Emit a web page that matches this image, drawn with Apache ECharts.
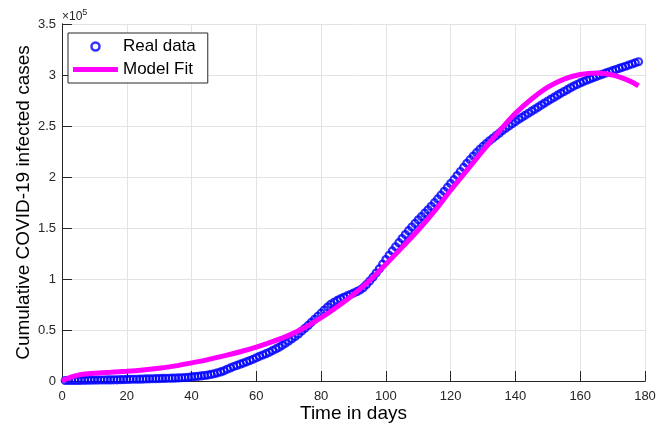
<!DOCTYPE html>
<html><head><meta charset="utf-8">
<script src="https://cdn.jsdelivr.net/npm/echarts@6/dist/echarts.min.js"></script>
<style>html,body{margin:0;padding:0;background:#fff}#c{width:670px;height:431px}</style>
</head><body><div id="c"></div>
<script>
// Real data: cumulative cases (x10^5) for days 1..178
const realFirstDay = 1;
const realCases = [
 0.005,0.005,0.005,0.006,0.006,0.007,0.007,0.008,0.008,0.009,
 0.009,0.010,0.010,0.011,0.011,0.012,0.012,0.013,0.014,0.015,
 0.016,0.017,0.017,0.018,0.019,0.020,0.021,0.022,0.023,0.024,
 0.025,0.026,0.027,0.028,0.029,0.030,0.032,0.034,0.036,0.040,
 0.043,0.046,0.050,0.054,0.058,0.064,0.071,0.080,0.089,0.100,
 0.115,0.128,0.142,0.153,0.165,0.176,0.188,0.200,0.213,0.228,
 0.242,0.255,0.268,0.282,0.298,0.314,0.330,0.350,0.370,0.392,
 0.414,0.437,0.462,0.490,0.517,0.545,0.575,0.605,0.635,0.665,
 0.695,0.725,0.752,0.772,0.790,0.806,0.820,0.834,0.848,0.862,
 0.876,0.892,0.915,0.945,0.980,1.018,1.058,1.100,1.145,1.190,
 1.232,1.275,1.316,1.356,1.396,1.436,1.474,1.510,1.545,1.580,
 1.612,1.645,1.678,1.712,1.748,1.785,1.822,1.860,1.898,1.936,
 1.974,2.014,2.054,2.094,2.134,2.170,2.205,2.238,2.270,2.300,
 2.328,2.355,2.380,2.405,2.430,2.455,2.478,2.500,2.522,2.543,
 2.565,2.585,2.605,2.625,2.645,2.665,2.685,2.705,2.725,2.745,
 2.764,2.783,2.802,2.820,2.838,2.856,2.874,2.891,2.907,2.922,
 2.936,2.949,2.962,2.974,2.986,2.998,3.009,3.020,3.031,3.042,
 3.053,3.064,3.075,3.086,3.097,3.108,3.119,3.130
];
// Model fit (x10^5)
const fitDays = [0,1,2,3,4,5,6,8,10,15,20,25,30,35,40,45,50,55,60,65,70,75,80,85,90,95,100,105,110,115,120,125,130,135,140,145,150,155,160,165,170,175,178];
const fitCases = [0.005,0.015,0.028,0.040,0.050,0.058,0.064,0.072,0.077,0.085,0.095,0.108,0.125,0.148,0.178,0.210,0.246,0.287,0.333,0.386,0.447,0.525,0.620,0.728,0.848,0.985,1.145,1.310,1.480,1.665,1.870,2.065,2.260,2.450,2.625,2.765,2.880,2.960,3.005,3.020,3.000,2.945,2.895];
const xTickLabels = ['0','20','40','60','80','100','120','140','160','180'];
const yTickLabels = ['0','0.5','1','1.5','2','2.5','3','3.5'];

const FONT = '"Liberation Sans", Arial, Helvetica, sans-serif';
const AX = '#262626';
const realData = realCases.map((v, i) => [realFirstDay + i, v]);
const fitData = fitDays.map((d, i) => [d, fitCases[i]]);

const chart = echarts.init(document.getElementById('c'), null, {renderer: 'canvas'});
const baseX = {type: 'value', min: 0, max: 180, interval: 20};
const baseY = {type: 'value', min: 0, max: 3.5, interval: 0.5};
const lineOn = {show: true, lineStyle: {color: AX, width: 1}};
// helper axes shifted 5px into the plot carry outward ticks, giving inward-pointing ticks on the frame
const tickAxis = (base, pos) => Object.assign({}, base, {
  position: pos, offset: -5,
  axisLine: {show: false},
  axisTick: {show: true, length: 5, lineStyle: {color: AX, width: 1}},
  axisLabel: {show: false}, splitLine: {show: false}
});
chart.setOption({
  animation: false,
  backgroundColor: '#fff',
  grid: {left: 62, right: 25, top: 24, bottom: 50, containLabel: false},
  xAxis: [
    Object.assign({}, baseX, {
      position: 'bottom',
      name: 'Time in days', nameLocation: 'middle', nameGap: 23, nameMoveOverlap: false,
      nameTextStyle: {fontFamily: FONT, fontSize: 19, color: '#000'},
      axisLine: lineOn, axisTick: {show: false},
      axisLabel: {fontFamily: FONT, fontSize: 13, color: AX, margin: 9,
        formatter: (v) => xTickLabels[Math.round(v / 20)]},
      splitLine: {show: true, lineStyle: {color: '#e3e3e3', width: 1}}
    }),
    Object.assign({}, baseX, {
      position: 'top', axisLine: lineOn, axisTick: {show: false},
      axisLabel: {show: false}, splitLine: {show: false}
    }),
    tickAxis(baseX, 'bottom'),
    tickAxis(baseX, 'top')
  ],
  yAxis: [
    Object.assign({}, baseY, {
      position: 'left',
      name: 'Cumulative COVID-19 infected cases', nameLocation: 'middle', nameGap: 29, nameMoveOverlap: false,
      nameTextStyle: {fontFamily: FONT, fontSize: 19, color: '#000'},
      axisLine: lineOn, axisTick: {show: false},
      axisLabel: {fontFamily: FONT, fontSize: 13, color: AX, margin: 6,
        formatter: (v) => yTickLabels[Math.round(v / 0.5)]},
      splitLine: {show: true, lineStyle: {color: '#e3e3e3', width: 1}}
    }),
    Object.assign({}, baseY, {
      position: 'right', axisLine: lineOn, axisTick: {show: false},
      axisLabel: {show: false}, splitLine: {show: false}
    }),
    tickAxis(baseY, 'left'),
    tickAxis(baseY, 'right')
  ],
  legend: {
    orient: 'vertical', left: 68, top: 33,
    padding: [5, 12, 5, 5], itemGap: 6, itemWidth: 45, itemHeight: 8,
    borderColor: AX, borderWidth: 1, backgroundColor: '#fff',
    textStyle: {fontFamily: FONT, fontSize: 17, color: '#000'},
    data: [
      {name: 'Real data', icon: 'circle', itemStyle: {color: 'rgba(0,0,0,0)', borderColor: '#0000ff', borderWidth: 2.5}},
      {name: 'Model Fit', icon: 'path://M0,0L45,0L45,5L0,5Z', itemStyle: {color: '#ff00ff', borderWidth: 0}}
    ]
  },
  graphic: [{
    type: 'text', left: 62, top: 8,
    style: {
      text: '×10{s|5}', fontFamily: FONT, fontSize: 12, fill: AX,
      rich: {s: {fontSize: 9, verticalAlign: 'top', padding: [0, 0, 8, 0], fill: AX}}
    }
  }],
  series: [
    {
      name: 'Real data', type: 'scatter', data: realData,
      symbol: 'circle', symbolSize: 7,
      itemStyle: {color: 'rgba(0,0,0,0)', borderColor: '#0000ff', borderWidth: 2.2},
      emphasis: {disabled: true}, z: 2
    },
    {
      name: 'Model Fit', type: 'line', data: fitData, smooth: 0.3,
      showSymbol: false, symbol: 'none',
      lineStyle: {color: '#ff00ff', width: 5},
      itemStyle: {color: '#ff00ff'},
      emphasis: {disabled: true}, z: 3
    }
  ]
});
</script>
</body></html>
